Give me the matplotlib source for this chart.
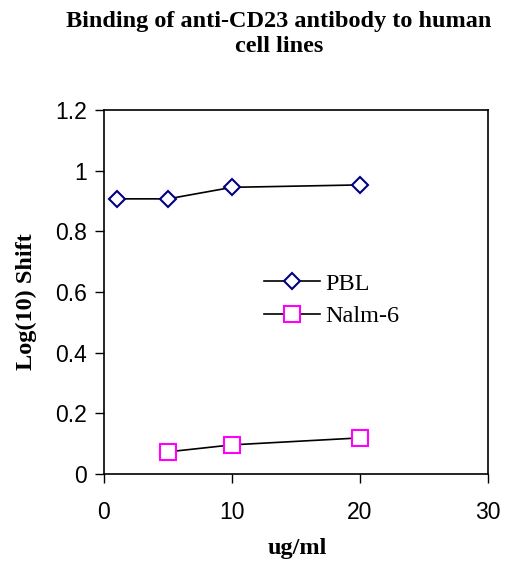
import numpy as np
import matplotlib
matplotlib.use("Agg")
import matplotlib.pyplot as plt

# data
pbl_x = [1, 5, 10, 20]
pbl_y = [0.907, 0.907, 0.945, 0.953]
nalm_x = [5, 10, 20]
nalm_y = [0.073, 0.096, 0.119]

fig = plt.figure(figsize=(5.11, 5.62), dpi=100)
ax = fig.add_axes([0.2035, 0.1566, 0.7515, 0.6477])

ax.plot(pbl_x, pbl_y, "-", color="black", lw=1.2, marker="D", ms=8,
        mfc="white", mec="#000080", mew=1.5, label="PBL")
ax.plot(nalm_x, nalm_y, "-", color="black", lw=1.2, marker="s", ms=11,
        mfc="white", mec="#FF00FF", mew=1.5, label="Nalm-6")

ax.set_xlim(0, 30)
ax.set_ylim(0, 1.2)
ax.set_xticks([0, 10, 20, 30])
ax.set_yticks([0, 0.2, 0.4, 0.6, 0.8, 1.0, 1.2])
ax.set_yticklabels(["0", "0.2", "0.4", "0.6", "0.8", "1", "1.2"])
for s in ax.spines.values():
    s.set_linewidth(1.2)
ax.tick_params(direction="out", length=6.5, width=1, labelsize=16.5)
ax.tick_params(axis="x", pad=13)
ax.tick_params(axis="y", pad=6)
for t in ax.get_xticklabels() + ax.get_yticklabels():
    t.set_family("Liberation Sans")

fig.text(0.546, 0.94, "Binding of anti-CD23 antibody to human\ncell lines",
         ha="center", va="center", family="Liberation Serif", weight="bold",
         fontsize=17.5, linespacing=1.25)
fig.text(0.051, 0.464, "Log(10) Shift", rotation=90, ha="center", va="center",
         family="Liberation Serif", weight="bold", fontsize=17.5)
fig.text(0.581, 0.024, "ug/ml", ha="center", va="center",
         family="Liberation Serif", weight="bold", fontsize=17.5)

ax.legend(loc="center left", bbox_to_anchor=(252 / 511, 1 - 300 / 562),
          bbox_transform=fig.transFigure, frameon=False,
          prop={"family": "Liberation Serif", "size": 17.5},
          handlelength=2.3, handletextpad=0.2, labelspacing=0.45, borderpad=0)

plt.savefig("out.png", dpi=100)
